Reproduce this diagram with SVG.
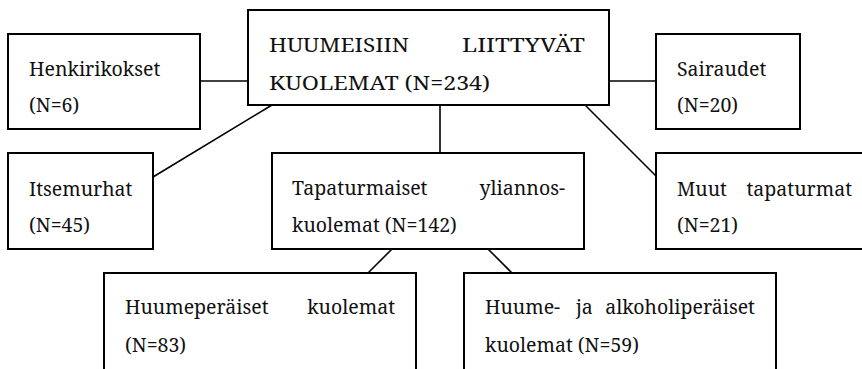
<svg xmlns="http://www.w3.org/2000/svg" width="862" height="369" viewBox="0 0 862 369">
<style>
.box{fill:#fff;stroke:#000;stroke-width:2}
.c{stroke:#000;stroke-width:1.6;fill:none}
.e{text-anchor:end}
.t{font-family:"Noto Serif","DejaVu Serif","Liberation Serif",serif;font-size:19.5px;fill:#111}
</style>
<rect width="862" height="369" fill="#fff"/>
<g id="connectors">
<line class="c" x1="200" y1="81" x2="248" y2="81"/>
<line class="c" x1="609" y1="81" x2="656" y2="81"/>
<line class="c" x1="272" y1="105" x2="153" y2="177"/>
<line class="c" x1="440" y1="105" x2="440" y2="153"/>
<line class="c" x1="585" y1="105" x2="656" y2="176"/>
<line class="c" x1="392" y1="249" x2="368" y2="273"/>
<line class="c" x1="488" y1="249" x2="512" y2="273"/>
</g>
<g class="t">
<g id="central">
<rect class="box" x="248" y="10" width="361" height="95"/>
<text x="269" y="52" textLength="140" lengthAdjust="spacingAndGlyphs">HUUMEISIIN</text>
<text x="462" y="52" textLength="123" lengthAdjust="spacingAndGlyphs">LIITTYVÄT</text>
<text x="269" y="90" textLength="221" lengthAdjust="spacingAndGlyphs">KUOLEMAT (N=234)</text>
</g>
<g id="henkirikokset">
<rect class="box" x="8" y="34" width="192" height="95"/>
<text x="29" y="76">Henkirikokset</text>
<text x="29" y="112">(N=6)</text>
</g>
<g id="sairaudet">
<rect class="box" x="656" y="34" width="144" height="95"/>
<text x="677" y="76">Sairaudet</text>
<text x="677" y="112">(N=20)</text>
</g>
<g id="itsemurhat">
<rect class="box" x="8" y="153" width="145" height="96"/>
<text x="29" y="196">Itsemurhat</text>
<text x="29" y="232">(N=45)</text>
</g>
<g id="tapaturmaiset">
<rect class="box" x="272" y="153" width="312" height="96"/>
<text x="292" y="195">Tapaturmaiset</text>
<text class="e" x="565" y="195">yliannos-</text>
<text x="292" y="232">kuolemat (N=142)</text>
</g>
<g id="muut">
<rect class="box" x="656" y="153" width="220" height="96"/>
<text x="677" y="196">Muut</text>
<text class="e" x="852" y="196">tapaturmat</text>
<text x="677" y="232">(N=21)</text>
</g>
<g id="huumeperaiset">
<rect class="box" x="104" y="273" width="312" height="110"/>
<text x="125" y="314">Huumeperäiset</text>
<text class="e" x="395" y="314">kuolemat</text>
<text x="125" y="352">(N=83)</text>
</g>
<g id="huume-alkoholi">
<rect class="box" x="464" y="273" width="312" height="110"/>
<text x="485" y="314">Huume-</text>
<text x="576" y="314">ja</text>
<text class="e" x="755" y="314">alkoholiperäiset</text>
<text x="485" y="352">kuolemat (N=59)</text>
</g>
</g>
</svg>
